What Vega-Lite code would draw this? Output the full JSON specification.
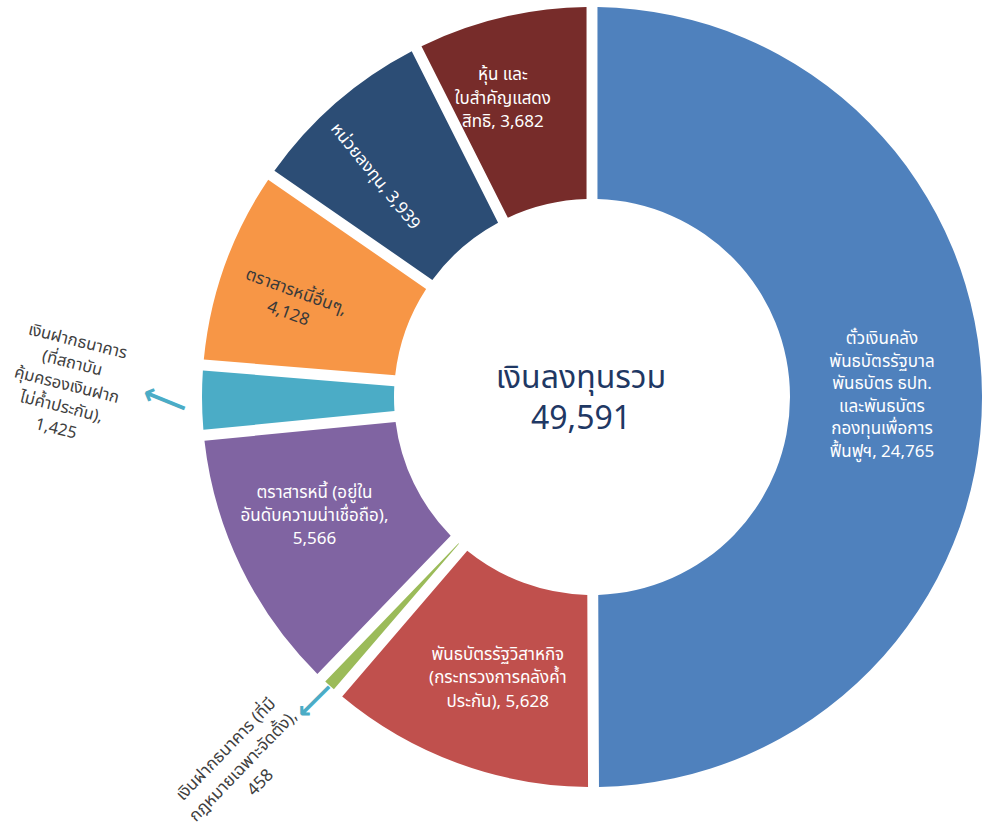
{
  "$schema": "https://vega.github.io/schema/vega-lite/v6.json",
  "width": 790,
  "height": 794,
  "padding": {"left": 197, "top": 0, "right": 0, "bottom": 46},
  "autosize": {"type": "none"},
  "background": "white",
  "config": {"view": {"stroke": null}, "text": {"font": "Tahoma, 'Noto Sans Thai', 'Noto Sans', sans-serif"}},
  "datasets": {
    "main": [
      {"k": 0, "name": "blue", "v": 24765, "label": "ตั๋วเงินคลัง\nพันธบัตรรัฐบาล\nพันธบัตร ธปท.\nและพันธบัตร\nกองทุนเพื่อการ\nฟื้นฟูฯ,  24,765"},
      {"k": 1, "name": "red", "v": 5628, "label": "พันธบัตรรัฐวิสาหกิจ\n(กระทรวงการคลังค้ำ\nประกัน), 5,628"},
      {"k": 2, "name": "green", "v": 458, "label": "เงินฝากธนาคาร (ที่มี\nกฎหมายเฉพาะจัดตั้ง),\n458"},
      {"k": 3, "name": "purple", "v": 5566, "label": "ตราสารหนี้ (อยู่ใน\nอันดับความน่าเชื่อถือ),\n5,566"},
      {"k": 4, "name": "teal", "v": 1425, "label": "เงินฝากธนาคาร\n(ที่สถาบัน\nคุ้มครองเงินฝาก\nไม่ค้ำประกัน),\n1,425"},
      {"k": 5, "name": "orange", "v": 4128, "label": "ตราสารหนี้อื่นๆ,\n4,128"},
      {"k": 6, "name": "navy", "v": 3939, "label": "หน่วยลงทุน, 3,939"},
      {"k": 7, "name": "darkred", "v": 3682, "label": "หุ้น และ\nใบสำคัญแสดง\nสิทธิ, 3,682"}
    ],
    "center": [{"t": "เงินลงทุนรวม\n49,591"}]
  },
  "data": {"name": "main"},
  "encoding": {
    "theta": {"field": "v", "type": "quantitative", "stack": true},
    "order": {"field": "k", "type": "quantitative", "sort": "ascending"}
  },
  "layer": [
    {
      "mark": {"type": "arc", "innerRadius": 198, "outerRadius": 390, "padAngle": 0.025},
      "encoding": {
        "color": {"field": "name", "type": "nominal", "legend": null,
          "scale": {"domain": ["blue", "red", "green", "purple", "teal", "orange", "navy", "darkred"],
                    "range": ["#4F81BD", "#C0504D", "#9BBB59", "#8064A2", "#4BACC6", "#F79646", "#2C4D75", "#772C2A"]}}
      }
    },
    {
      "mark": {"type": "text", "radius": 290, "dy": -57, "fontSize": 17, "color": "white", "lineBreak": "\n", "lineHeight": 22.5, "align": "center", "baseline": "middle"},
      "encoding": {"text": {"condition": {"test": "datum.k === 0", "field": "label"}, "value": ""}}
    },
    {
      "mark": {"type": "text", "radius": 293, "dx": 7, "dy": -17, "fontSize": 17, "color": "white", "lineBreak": "\n", "lineHeight": 23.5, "align": "center", "baseline": "middle"},
      "encoding": {"text": {"condition": {"test": "datum.k === 1", "field": "label"}, "value": ""}}
    },
    {
      "mark": {"type": "text", "radius": 295, "dx": -12, "dy": -33, "fontSize": 17, "color": "white", "lineBreak": "\n", "lineHeight": 23, "align": "center", "baseline": "middle"},
      "encoding": {"text": {"condition": {"test": "datum.k === 3", "field": "label"}, "value": ""}}
    },
    {
      "mark": {"type": "text", "radius": 305, "dx": -9, "dy": 1, "angle": 20, "fontSize": 17, "color": "#3A3A3A", "lineBreak": "\n", "lineHeight": 23, "align": "center", "baseline": "middle"},
      "encoding": {"text": {"condition": {"test": "datum.k === 5", "field": "label"}, "value": ""}}
    },
    {
      "mark": {"type": "text", "radius": 305, "dx": -3, "dy": 19, "angle": 51, "fontSize": 17, "color": "white", "align": "center", "baseline": "middle"},
      "encoding": {"text": {"condition": {"test": "datum.k === 6", "field": "label"}, "value": ""}}
    },
    {
      "mark": {"type": "text", "radius": 308, "dx": -18, "dy": -22, "fontSize": 17, "color": "white", "lineBreak": "\n", "lineHeight": 23.5, "align": "center", "baseline": "middle"},
      "encoding": {"text": {"condition": {"test": "datum.k === 7", "field": "label"}, "value": ""}}
    },
    {
      "mark": {"type": "text", "radius": 491, "dx": -37, "dy": -52, "angle": 14, "fontSize": 16.5, "color": "#404040", "lineBreak": "\n", "lineHeight": 22.5, "align": "center", "baseline": "middle"},
      "encoding": {"text": {"condition": {"test": "datum.k === 4", "field": "label"}, "value": ""}}
    },
    {
      "mark": {"type": "text", "radius": 494, "dx": -14, "dy": -33, "angle": -46, "fontSize": 17, "color": "#404040", "lineBreak": "\n", "lineHeight": 24, "align": "center", "baseline": "middle"},
      "encoding": {"text": {"condition": {"test": "datum.k === 2", "field": "label"}, "value": ""}}
    },
    {
      "mark": {"type": "text", "radius": 427, "angle": 22, "fontSize": 32, "fontWeight": "bold", "color": "#4BACC6", "font": "DejaVu Sans", "align": "center", "baseline": "middle"},
      "encoding": {"text": {"condition": {"test": "datum.k === 4", "value": "⟵"}, "value": ""}}
    },
    {
      "mark": {"type": "text", "radius": 411, "angle": -45, "fontSize": 30, "fontWeight": "bold", "color": "#4BACC6", "font": "DejaVu Sans", "align": "center", "baseline": "middle"},
      "encoding": {"text": {"condition": {"test": "datum.k === 2", "value": "⟵"}, "value": ""}}
    },
    {
      "data": {"name": "center"},
      "mark": {"type": "text", "dx": -11, "dy": -19, "fontSize": 32, "color": "#1F3864", "lineBreak": "\n", "lineHeight": 41, "align": "center", "baseline": "middle"},
      "encoding": {"theta": null, "order": null, "text": {"field": "t", "type": "nominal"}}
    }
  ]
}
